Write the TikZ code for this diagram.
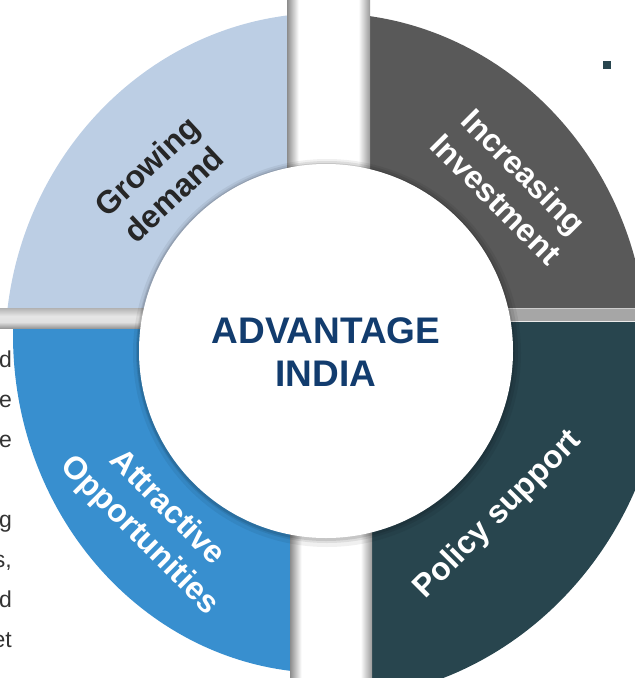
\documentclass[tikz,border=0pt]{standalone}
\usepackage{fontspec}
\setmainfont{Liberation Sans}
\definecolor{tlcol}{RGB}{188,206,228}
\definecolor{trcol}{RGB}{89,89,89}
\definecolor{blcol}{RGB}{56,143,207}
\definecolor{brcol}{RGB}{40,69,78}
\definecolor{advblue}{RGB}{18,60,110}
\definecolor{darktext}{RGB}{38,38,38}
\definecolor{sidetext}{RGB}{51,51,51}
\definecolor{bargray}{RGB}{166,166,166}
\pgfdeclarehorizontalshading{vbarshade}{100bp}{color(0bp)=(black!45); color(25bp)=(black!45); color(32bp)=(white); color(68bp)=(white); color(75bp)=(black!40); color(100bp)=(black!40)}
\pgfdeclareverticalshading{hbarshade}{100bp}{color(0bp)=(black!40); color(25bp)=(black!40); color(40bp)=(black!12); color(55bp)=(black!10); color(75bp)=(black!30); color(100bp)=(black!30)}
\tikzset{
  qtext/.style={font=\fontsize{32}{39}\selectfont\bfseries, align=center, inner sep=0pt},
  sidestyle/.style={font=\fontsize{23}{26}\selectfont, text=sidetext, anchor=base east, inner sep=0pt},
}
\begin{document}
\begin{tikzpicture}[x=1pt,y=-1pt]
\useasboundingbox (0,0) rectangle (635,678);
\begin{scope}
\clip (0,0) rectangle (635,678);
% quadrants
\begin{scope}
  \clip (0,0) rectangle (287,308);
  \fill[tlcol] (326,351) ellipse [x radius=321pt, y radius=338pt];
\end{scope}
\begin{scope}
  \clip (370,0) rectangle (635,308);
  \fill[trcol] (326,351) ellipse [x radius=321pt, y radius=338pt];
\end{scope}
\begin{scope}
  \clip (0,328) rectangle (290,678);
  \fill[blcol] (326,335) ellipse [x radius=313pt, y radius=338pt];
\end{scope}
\begin{scope}
  \clip (372,322) rectangle (635,678);
  \fill[brcol] (326,340) ellipse [x radius=340pt, y radius=360pt];
\end{scope}
% bars
\shade[shading=vbarshade] (287,0) rectangle (370,250);
\shade[shading=vbarshade] (290,450) rectangle (372,678);
\shade[shading=hbarshade] (0,308) rectangle (200,328);
\fill[bargray] (450,308) rectangle (635,322);
\draw[black!20, line width=1pt] (450,308.5) -- (635,308.5);
\draw[black!8, line width=1pt] (450,321.5) -- (635,321.5);
% inner circle with soft shadow
\fill[black, opacity=0.06] (327,353) circle (194);
\fill[black, opacity=0.08] (327,352) circle (191);
\fill[black, opacity=0.10] (326,352) circle (189);
\fill[white] (326,351) circle (187);
\end{scope}
% texts
\node[font=\fontsize{37}{43}\selectfont\bfseries, text=advblue, align=center, inner sep=0pt] (adv) at (326,352) {ADVANTAGE\\INDIA};
\node[qtext, text=darktext, rotate=43] (grow) at (160,180) {Growing\\demand};
\node[qtext, text=white, rotate=-45] (inv) at (510,185) {Increasing\\Investment};
\node[qtext, text=white, rotate=-45] (attr) at (153,522) {Attractive\\Opportunities};
\node[qtext, text=white, rotate=45] (pol) at (498,515) {Policy support};
% side text fragments
\node[sidestyle] (s1) at (12,367) {d};
\node[sidestyle] (s2) at (12,407) {e};
\node[sidestyle] (s3) at (12,447) {e};
\node[sidestyle] (s4) at (12,527) {g};
\node[sidestyle] (s5) at (12,567) {s,};
\node[sidestyle] (s6) at (12,607) {d};
\node[sidestyle] (s7) at (12,647) {et};
% small square
\fill[brcol] (603,61) rectangle (611,69);
\end{tikzpicture}
\end{document}
